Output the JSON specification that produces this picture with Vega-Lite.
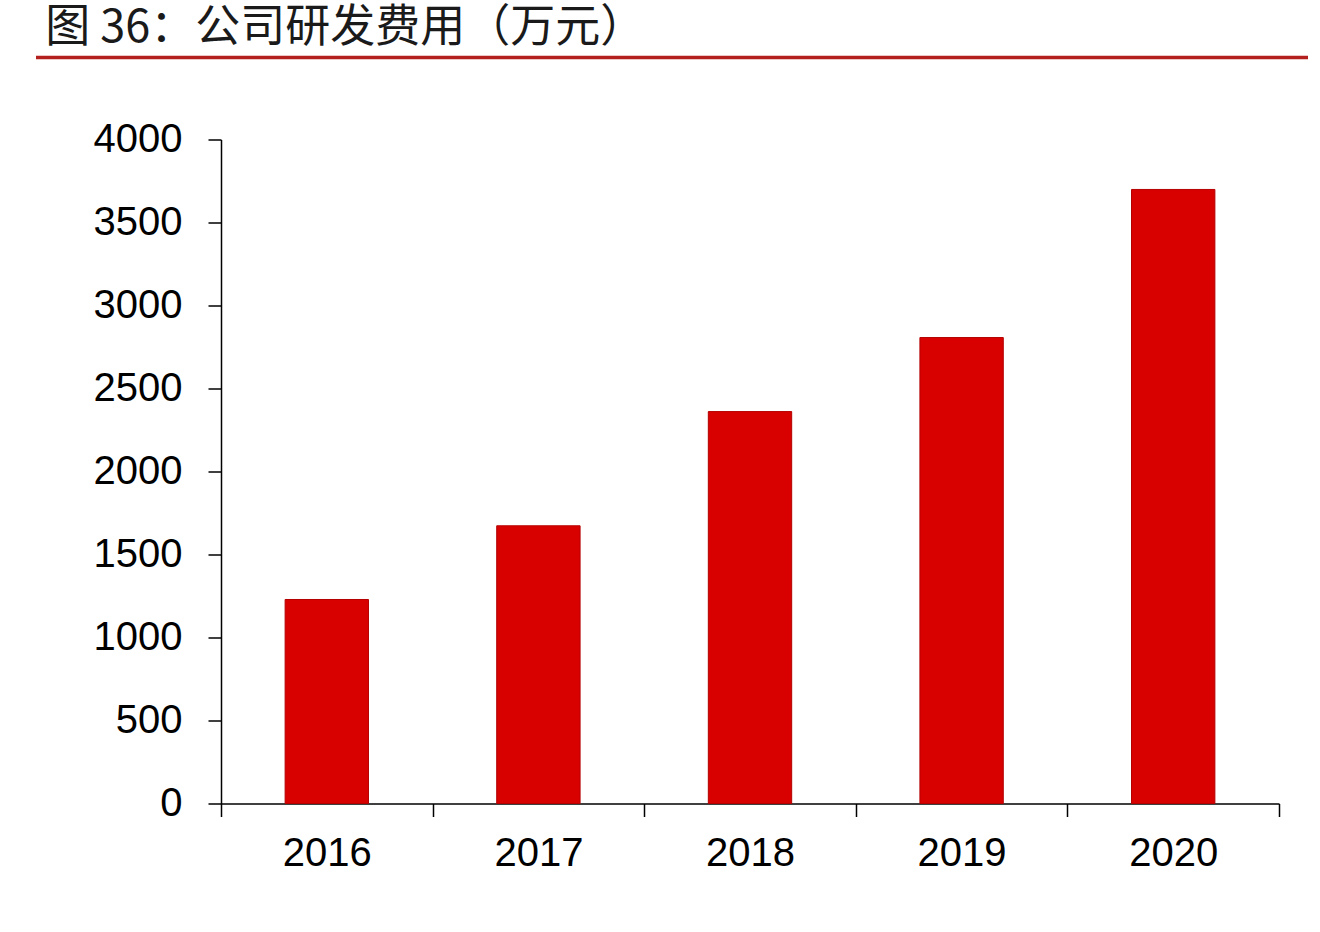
{
  "$schema": "https://vega.github.io/schema/vega-lite/v6.json",
  "background": "white",
  "padding": {"left": 34, "top": 6, "right": 12, "bottom": 0},
  "spacing": 59.5,
  "config": {
    "view": {"stroke": null},
    "font": "Liberation Sans"
  },
  "vconcat": [
    {
      "width": 1272,
      "height": 4.5,
      "title": {
        "text": "图 36：公司研发费用（万元）",
        "anchor": "start",
        "font": "Noto Sans CJK SC",
        "fontSize": 45,
        "fontWeight": "normal",
        "color": "#1a1a1a",
        "dx": 11,
        "offset": 2
      },
      "data": {"values": [{"line": 0}]},
      "mark": {"type": "rule", "color": "#b3201e", "strokeWidth": 3.5},
      "encoding": {
        "y": {"field": "line", "type": "quantitative", "scale": {"domain": [0, 1]}, "axis": null}
      }
    },
    {
      "width": 1272,
      "height": 664,
      "data": {
        "values": [
          {"year": "2016", "value": 1229},
          {"year": "2017", "value": 1673},
          {"year": "2018", "value": 2361},
          {"year": "2019", "value": 2807},
          {"year": "2020", "value": 3699}
        ]
      },
      "mark": {"type": "bar", "color": "#d90000", "stroke": "#b50000", "strokeWidth": 1, "width": {"band": 0.394}},
      "encoding": {
        "x": {
          "field": "year",
          "type": "ordinal",
          "scale": {"paddingInner": 0, "paddingOuter": 0, "range": [185, 1243]},
          "axis": {
            "title": null,
            "labelAngle": 0,
            "tickBand": "extent",
            "labelFontSize": 40,
            "labelColor": "#000",
            "labelPadding": 17,
            "tickSize": 13,
            "tickColor": "#000",
            "tickWidth": 1.5,
            "domainColor": "#000",
            "domainWidth": 1.5
          }
        },
        "y": {
          "field": "value",
          "type": "quantitative",
          "scale": {"domain": [0, 4000]},
          "axis": {
            "title": null,
            "grid": false,
            "offset": -185,
            "values": [0, 500, 1000, 1500, 2000, 2500, 3000, 3500, 4000],
            "format": "d",
            "labelFontSize": 40,
            "labelColor": "#000",
            "labelPadding": 26,
            "tickSize": 13,
            "tickColor": "#000",
            "tickWidth": 1.5,
            "domainColor": "#000",
            "domainWidth": 1.5
          }
        }
      }
    }
  ]
}
